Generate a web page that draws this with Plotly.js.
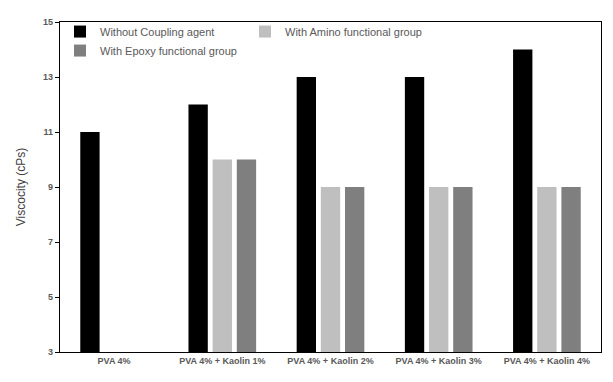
<!DOCTYPE html>
<html><head><meta charset="utf-8">
<script src="https://cdn.plot.ly/plotly-3.0.1.min.js"></script>
<style>body{margin:0;background:#fff}#chart{width:613px;height:382px}</style>
</head><body><div id="chart"></div>
<script>
const categories = ["PVA 4%", "PVA 4% + Kaolin 1%", "PVA 4% + Kaolin 2%", "PVA 4% + Kaolin 3%", "PVA 4% + Kaolin 4%"];
const withoutCoupling = [11, 12, 13, 13, 14];
const withAmino = [null, 10, 9, 9, 9];
const withEpoxy = [null, 10, 9, 9, 9];
const yTicks = [3, 5, 7, 9, 11, 13, 15];

const traces = [
  {type: "bar", name: "Without Coupling agent", x: categories, y: withoutCoupling, marker: {color: "#000000"}},
  {type: "bar", name: "With Amino functional group", x: categories, y: withAmino, marker: {color: "#bfbfbf"}},
  {type: "bar", name: "With Epoxy functional group", x: categories, y: withEpoxy, marker: {color: "#7f7f7f"}}
];

const layout = {
  width: 613, height: 382,
  margin: {l: 60, r: 12, t: 22, b: 30},
  paper_bgcolor: "#fff", plot_bgcolor: "#fff",
  barmode: "group", bargap: 0.33, bargroupgap: 0.2,
  font: {family: "Liberation Sans, Arial, sans-serif", color: "#595959"},
  showlegend: true,
  legend: {orientation: "h", x: 0.0, y: 1.015, xanchor: "left", yanchor: "top",
    entrywidth: 140, entrywidthmode: "pixels",
    font: {size: 11, color: "#595959"}, bgcolor: "rgba(0,0,0,0)", itemwidth: 30, tracegroupgap: 0},
  xaxis: {type: "category", showline: true, mirror: true, linecolor: "#000", linewidth: 1.2,
    ticks: "", tickfont: {size: 9, color: "#595959", family: "Liberation Sans, Arial, sans-serif", weight: "bold"},
    showgrid: false, zeroline: false},
  yaxis: {range: [3, 15], tickvals: yTicks, showline: true, mirror: true, linecolor: "#000", linewidth: 1.2,
    ticks: "outside", ticklen: 4, tickcolor: "#000",
    tickfont: {size: 9, color: "#595959", weight: "bold"}, showgrid: false, zeroline: false,
    title: {text: "Viscocity (cPs)", font: {size: 12, color: "#404040"}, standoff: 14}}
};

Plotly.newPlot("chart", traces, layout, {displayModeBar: false, staticPlot: true});
</script></body></html>
